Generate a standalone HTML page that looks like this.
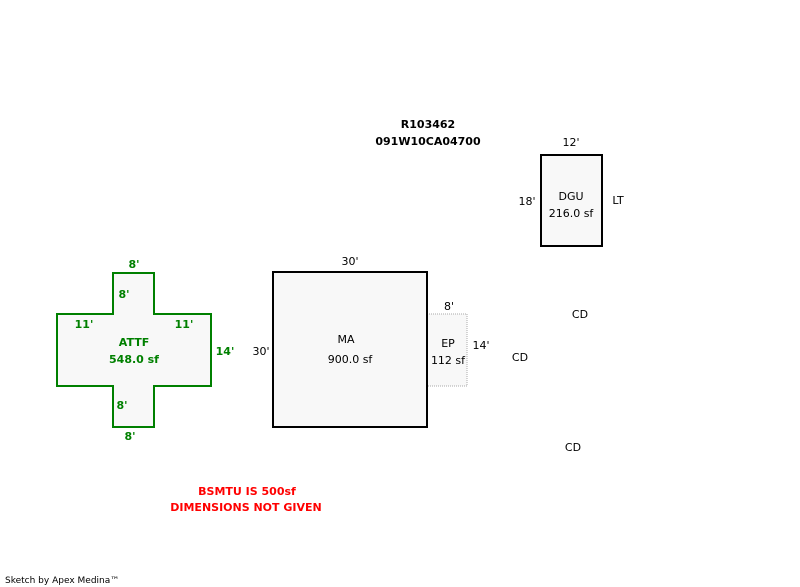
<!DOCTYPE html>
<html><head><style>body{margin:0;background:#fff}svg{display:block}</style></head>
<body>
<svg width="800" height="587" xmlns="http://www.w3.org/2000/svg" font-family="DejaVu Sans, Liberation Sans, sans-serif" font-size="11">
<rect width="800" height="587" fill="#fff"/>
<g font-weight="bold" text-anchor="middle">
<text x="428" y="128">R103462</text>
<text x="428" y="145">091W10CA04700</text>
</g>
<rect x="541" y="155" width="61" height="91" fill="#f8f8f8" stroke="#000" stroke-width="2"/>
<g text-anchor="middle">
<text x="571" y="146">12'</text>
<text x="527" y="205">18'</text>
<text x="571" y="200">DGU</text>
<text x="571" y="217">216.0 sf</text>
<text x="618" y="204">LT</text>
</g>
<path d="M113 273H154V314H211V386H154V427H113V386H57V314H113Z" fill="#f8f8f8" stroke="#008000" stroke-width="2"/>
<g fill="#008000" font-weight="bold" text-anchor="middle">
<text x="134" y="268">8'</text>
<text x="124" y="298">8'</text>
<text x="84" y="328">11'</text>
<text x="184" y="328">11'</text>
<text x="225" y="355">14'</text>
<text x="134" y="346">ATTF</text>
<text x="134" y="363">548.0 sf</text>
<text x="122" y="409">8'</text>
<text x="130" y="440">8'</text>
</g>
<rect x="427" y="314" width="40" height="72" fill="#f8f8f8" stroke="#aaa" stroke-width="1" stroke-dasharray="1,1"/>
<rect x="273" y="272" width="154" height="155" fill="#f8f8f8" stroke="#000" stroke-width="2"/>
<g text-anchor="middle">
<text x="350" y="265">30'</text>
<text x="261" y="355">30'</text>
<text x="346" y="343">MA</text>
<text x="350" y="363">900.0 sf</text>
<text x="449" y="310">8'</text>
<text x="448" y="347">EP</text>
<text x="448" y="364">112 sf</text>
<text x="481" y="349">14'</text>
<text x="580" y="318">CD</text>
<text x="520" y="361">CD</text>
<text x="573" y="451">CD</text>
</g>
<g fill="#f00" font-weight="bold" text-anchor="middle">
<text x="247" y="495">BSMTU IS 500sf</text>
<text x="246" y="511">DIMENSIONS NOT GIVEN</text>
</g>
<text x="5" y="583" font-size="9">Sketch by Apex Medina™</text>
</svg>
</body></html>
